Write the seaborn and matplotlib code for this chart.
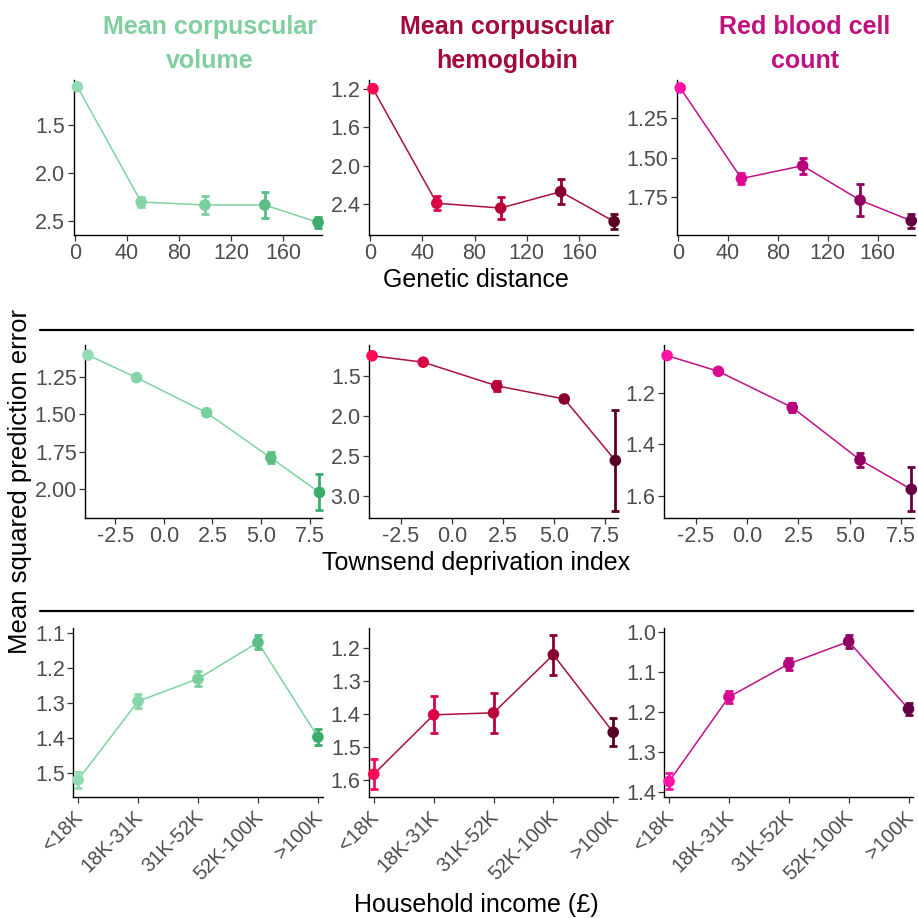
import matplotlib
matplotlib.use("Agg")
import matplotlib.pyplot as plt
from matplotlib.colors import LinearSegmentedColormap
from matplotlib.lines import Line2D
from matplotlib.ticker import FormatStrFormatter
from matplotlib.transforms import ScaledTranslation
import pandas as pd
import seaborn as sns

# ---- data -------------------------------------------------------------
trait_titles = ["Mean corpuscular\nvolume", "Mean corpuscular\nhemoglobin", "Red blood cell\ncount"]

genetic_distance = [2, 51, 100, 146, 187]
townsend_index = [-3.9, -1.4, 2.2, 5.5, 8.0]
income_groups = ["<18K", "18K-31K", "31K-52K", "52K-100K", ">100K"]

# genetic distance
mcv_gd = [1.11, 2.30, 2.33, 2.33, 2.51]
mcv_gd_err = [0.012, 0.05, 0.09, 0.13, 0.055]
mch_gd = [1.20, 2.39, 2.44, 2.27, 2.58]
mch_gd_err = [0.012, 0.075, 0.11, 0.13, 0.075]
rbc_gd = [1.06, 1.633, 1.552, 1.77, 1.90]
rbc_gd_err = [0.006, 0.033, 0.05, 0.10, 0.045]

# Townsend deprivation index
mcv_tdi = [1.107, 1.257, 1.49, 1.79, 2.02]
mcv_tdi_err = [0.005, 0.005, 0.01, 0.037, 0.12]
mch_tdi = [1.25, 1.33, 1.626, 1.79, 2.56]
mch_tdi_err = [0.02, 0.01, 0.06, 0.02, 0.63]
rbc_tdi = [1.056, 1.117, 1.257, 1.46, 1.574]
rbc_tdi_err = [0.004, 0.005, 0.018, 0.028, 0.085]

# household income
mcv_inc = [1.52, 1.296, 1.232, 1.128, 1.398]
mcv_inc_err = [0.023, 0.02, 0.021, 0.02, 0.022]
mch_inc = [1.581, 1.401, 1.395, 1.219, 1.454]
mch_inc_err = [0.045, 0.056, 0.06, 0.061, 0.042]
rbc_inc = [1.374, 1.162, 1.079, 1.023, 1.192]
rbc_inc_err = [0.02, 0.016, 0.015, 0.016, 0.015]

# axis ticks
gd_ticks = [0, 40, 80, 120, 160]
tdi_ticks = [-2.5, 0.0, 2.5, 5.0, 7.5]

# ---- style ------------------------------------------------------------
sns.set_theme(style="ticks")
plt.rcParams["font.family"] = ["Liberation Sans", "DejaVu Sans"]
plt.rcParams["axes.unicode_minus"] = False

title_colors = ["#7fcf9f", "#a3093b", "#c0107f"]
line_colors = ["#7dd3a0", "#a8103e", "#c01088"]
point_gradients = [("#93dcb3", "#7acf9e", "#3aad6c"),
                   ("#ff0a52", "#b8003a", "#5a0022"),
                   ("#ff12a6", "#b8007e", "#650045")]

W = H = 918
fig = plt.figure(figsize=(W / 100, H / 100), dpi=100)


def rect(left, top, right, bottom):
    return [left / W, 1 - bottom / H, (right - left) / W, (bottom - top) / H]


rows = [
    dict(x=genetic_distance, series=[(mcv_gd, mcv_gd_err), (mch_gd, mch_gd_err), (rbc_gd, rbc_gd_err)],
         xlim=(-1, 190), xticks=gd_ticks, xfmt="%d",
         ylims=[(1.04, 2.64), (1.11, 2.72), (1.01, 1.99)],
         yticks=[[1.5, 2.0, 2.5], [1.2, 1.6, 2.0, 2.4], [1.25, 1.50, 1.75]],
         yfmts=["%.1f", "%.1f", "%.2f"],
         boxes=[(73.5, 80, 322, 235), (369, 80, 618, 235), (676.5, 80, 915, 235)]),
    dict(x=townsend_index, series=[(mcv_tdi, mcv_tdi_err), (mch_tdi, mch_tdi_err), (rbc_tdi, rbc_tdi_err)],
         xlim=(-4.05, 8.13), xticks=tdi_ticks, xfmt="%.1f",
         ylims=[(1.04, 2.19), (1.115, 3.28), (1.015, 1.685)],
         yticks=[[1.25, 1.50, 1.75, 2.00], [1.5, 2.0, 2.5, 3.0], [1.2, 1.4, 1.6]],
         yfmts=["%.2f", "%.1f", "%.1f"],
         boxes=[(85, 345, 322, 518), (369, 345, 618, 518), (664, 345, 914, 518)]),
    dict(x=list(range(len(income_groups))),
         series=[(mcv_inc, mcv_inc_err), (mch_inc, mch_inc_err), (rbc_inc, rbc_inc_err)],
         xlim=(-0.08, 4.08), xticks=list(range(len(income_groups))), xfmt=None,
         ylims=[(1.087, 1.569), (1.138, 1.65), (0.989, 1.413)],
         yticks=[[1.1, 1.2, 1.3, 1.4, 1.5], [1.2, 1.3, 1.4, 1.5, 1.6], [1.0, 1.1, 1.2, 1.3, 1.4]],
         yfmts=["%.1f", "%.1f", "%.1f"],
         boxes=[(73.3, 628, 322.7, 797), (369, 628, 618, 797), (664.3, 628, 913.3, 797)]),
]

for r, row in enumerate(rows):
    for c in range(3):
        y, err = row["series"][c]
        df = pd.DataFrame({"x": row["x"], "y": y, "err": err, "k": range(len(y))})
        cmap = LinearSegmentedColormap.from_list("g", point_gradients[c])
        colors = [cmap(i / (len(y) - 1)) for i in range(len(y))]

        ax = fig.add_axes(rect(*row["boxes"][c]))
        sns.lineplot(data=df, x="x", y="y", color=line_colors[c], lw=1.1, ax=ax,
                     estimator=None, sort=False, zorder=2)
        for i in range(len(df)):
            ax.errorbar(df["x"][i], df["y"][i], yerr=df["err"][i], fmt="none",
                        ecolor=colors[i], elinewidth=2.0, capsize=3.2, capthick=2.0,
                        zorder=3, clip_on=False)
        sns.scatterplot(data=df, x="x", y="y", hue="k", palette=colors, s=70,
                        linewidth=0, legend=False, ax=ax, zorder=4, clip_on=False)

        ax.set_xlim(*row["xlim"])
        lo, hi = row["ylims"][c]
        ax.set_ylim(hi, lo)
        ax.set_xticks(row["xticks"])
        ax.set_yticks(row["yticks"][c])
        ax.yaxis.set_major_formatter(FormatStrFormatter(row["yfmts"][c]))
        ax.set_xlabel("")
        ax.set_ylabel("")
        sns.despine(ax=ax)
        for s in ("left", "bottom"):
            ax.spines[s].set_color("black")
            ax.spines[s].set_linewidth(1.0)
        ax.tick_params(direction="out", length=4, width=0.9, color="#333333",
                       labelcolor="#4d4d4d", labelsize=15.5, pad=2)
        if row["xfmt"]:
            ax.xaxis.set_major_formatter(FormatStrFormatter(row["xfmt"]))
        else:
            ax.tick_params(axis="x", pad=8.5)
            shift = ScaledTranslation(2 / 100, 0, fig.dpi_scale_trans)
            for lab in ax.set_xticklabels(income_groups, rotation=45, ha="right",
                                          va="center", rotation_mode="anchor",
                                          fontsize=14.5):
                lab.set_transform(lab.get_transform() + shift)

# panel titles
for c, (t, xc) in enumerate(zip(trait_titles, [210, 507, 805])):
    fig.text(xc / W, 1 - 44 / H, t, ha="center", va="center", fontsize=18,
             fontweight="bold", color=title_colors[c], linespacing=1.55)

# row axis titles
for label, yc in [("Genetic distance", 280), ("Townsend deprivation index", 563),
                  ("Household income (\u00a3)", 905)]:
    fig.text(476 / W, 1 - yc / H, label, ha="center", va="center", fontsize=18, color="black")

fig.text(20 / W, 1 - 481 / H, "Mean squared prediction error", rotation=90,
         ha="center", va="center", fontsize=18.5, color="black")

# separators between rows
for yp in (329.5, 610.5):
    fig.add_artist(Line2D([40 / W, 913 / W], [1 - yp / H, 1 - yp / H], color="black", lw=1.6))

fig.savefig("out.png", dpi=100)
